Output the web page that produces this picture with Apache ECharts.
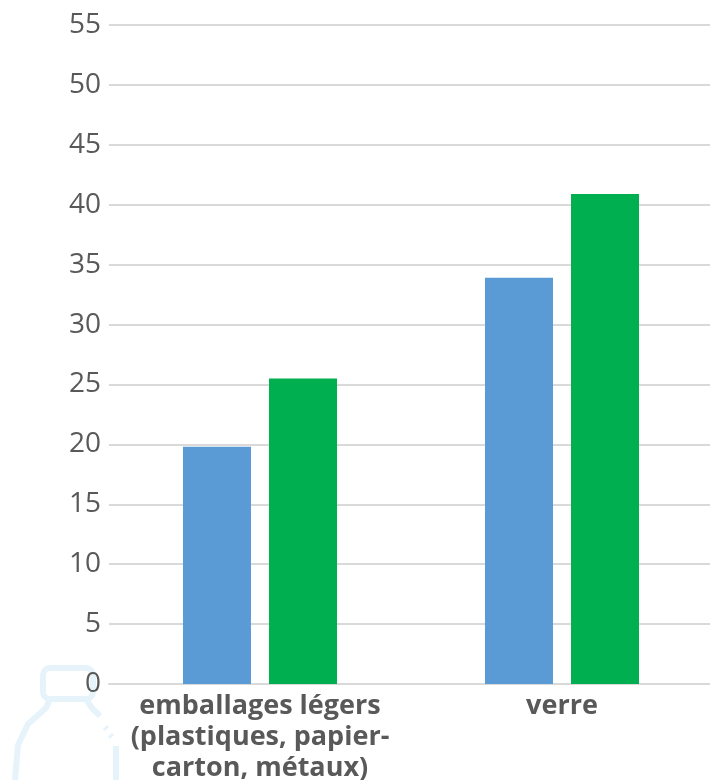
<!DOCTYPE html>
<html><head><meta charset="utf-8">
<style>html,body{margin:0;padding:0;background:#fff}#c{width:710px;height:780px}</style>
<script src="https://cdn.jsdelivr.net/npm/echarts@6/dist/echarts.min.js"></script>
</head><body><div id="c"></div>
<script>
const categories = ["emballages légers\n(plastiques, papier-\ncarton, métaux)", "verre"];
const seriesA = [19.8, 33.9];
const seriesB = [25.5, 40.9];
const chart = echarts.init(document.getElementById('c'), null, {renderer:'canvas'});
chart.setOption({
  animation:false,
  grid:{left:109,right:-3,top:25,bottom:96,outerBoundsMode:'none'},
  xAxis:{type:'category',data:categories,
    axisLine:{lineStyle:{color:'#d9d9d9',width:2}},axisTick:{show:false},
    axisLabel:{interval:0,margin:7,color:'#595959',fontFamily:'Open Sans',fontWeight:'bold',fontSize:27,lineHeight:31}},
  yAxis:{type:'value',min:0,max:55,interval:5,
    axisLine:{show:false},axisTick:{show:false},
    splitLine:{lineStyle:{color:'#d9d9d9',width:2}},
    axisLabel:{margin:8,color:'#595959',fontFamily:'Open Sans',fontSize:28}},
  graphic:{elements:[
    {type:'rect',z:-1,silent:true,shape:{x:43,y:668,width:50,height:31,r:7},style:{fill:'none',stroke:'#e6f3fa',lineWidth:6}},
    {type:'polyline',z:-1,silent:true,shape:{points:[[50,699],[46,708],[28,724],[18,745],[15,780]]},style:{fill:'none',stroke:'#e6f3fa',lineWidth:6}},
    {type:'polyline',z:-1,silent:true,shape:{points:[[86,699],[92,708],[100,716]]},style:{fill:'none',stroke:'#e6f3fa',lineWidth:6}},
    {type:'polyline',z:-1,silent:true,shape:{points:[[105,727],[107,729]]},style:{fill:'none',stroke:'#e6f3fa',lineWidth:6}},
    {type:'polyline',z:-1,silent:true,shape:{points:[[110,735],[112,737]]},style:{fill:'none',stroke:'#e6f3fa',lineWidth:6}},
    {type:'polyline',z:-1,silent:true,shape:{points:[[116,746],[116,780]]},style:{fill:'none',stroke:'#e6f3fa',lineWidth:6}}
  ]},
  series:[
    {type:'bar',data:seriesA,barWidth:68,barGap:'26.5%',itemStyle:{color:'#5b9bd5'}},
    {type:'bar',data:seriesB,barWidth:68,barGap:'26.5%',itemStyle:{color:'#00b050'}}
  ]
});
</script></body></html>
